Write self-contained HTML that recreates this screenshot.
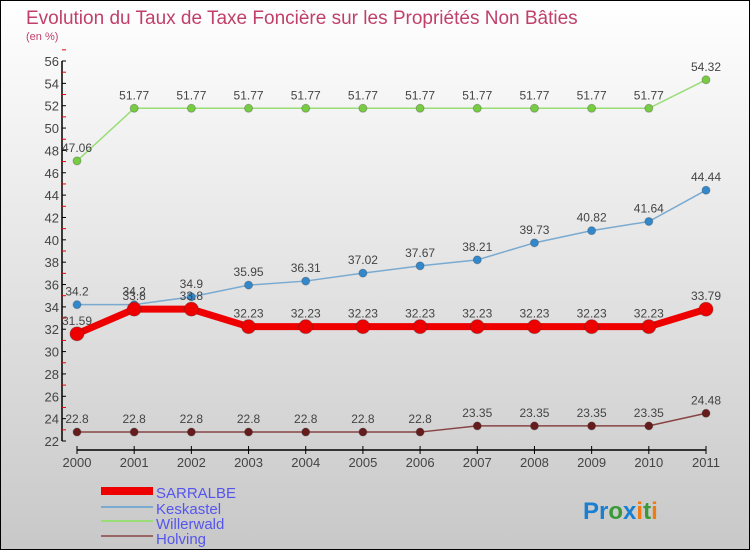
<!DOCTYPE html>
<html><head><meta charset="utf-8"><style>
body{margin:0;}
#c{position:relative;width:748px;height:548px;border:1px solid #000;background:linear-gradient(#fff,#c8c8c8);font-family:"Liberation Sans",sans-serif;overflow:hidden}
</style></head><body>
<div id="c">
<svg id="s" width="748" height="548" style="position:absolute;left:0;top:0">
<text x="25" y="23" font-size="19" fill="#c0406a">Evolution du Taux de Taxe Foncière sur les Propriétés Non Bâties</text>
<text x="25" y="39" font-size="11" fill="#c0406a">(en %)</text>
<g id="ax"></g><g id="ser"></g>
<g>
<rect x="100" y="486" width="52" height="8" fill="#e00"/>
<text x="155" y="497" font-size="15" fill="#5555ee">SARRALBE</text>
<line x1="100" x2="152" y1="506" y2="506" stroke="#7aaad0" stroke-width="2"/>
<text x="155" y="513" font-size="15" fill="#5555ee">Keskastel</text>
<line x1="100" x2="152" y1="520" y2="520" stroke="#99dd77" stroke-width="2"/>
<text x="155" y="528" font-size="15" fill="#5555ee">Willerwald</text>
<line x1="100" x2="152" y1="535" y2="535" stroke="#996666" stroke-width="2"/>
<text x="155" y="543" font-size="15" fill="#5555ee">Holving</text>
</g>
<text x="582" y="518" font-size="24" font-weight="bold"><tspan fill="#1a7fd0">Pr</tspan><tspan fill="#3a9a3a">o</tspan><tspan fill="#1a7fd0">x</tspan><tspan fill="#f07b10">i</tspan><tspan fill="#3a9a3a">t</tspan><tspan fill="#f07b10">i</tspan></text>
</svg>
</div>
<script>
const years=[2000,2001,2002,2003,2004,2005,2006,2007,2008,2009,2010,2011];
const sarralbe=[31.59,33.8,33.8,32.23,32.23,32.23,32.23,32.23,32.23,32.23,32.23,33.79];
const keskastel=[34.2,34.2,34.9,35.95,36.31,37.02,37.67,38.21,39.73,40.82,41.64,44.44];
const willerwald=[47.06,51.77,51.77,51.77,51.77,51.77,51.77,51.77,51.77,51.77,51.77,54.32];
const holving=[22.8,22.8,22.8,22.8,22.8,22.8,22.8,23.35,23.35,23.35,23.35,24.48];
const yTicks=[22,24,26,28,30,32,34,36,38,40,42,44,46,48,50,52,54,56];
const NS='http://www.w3.org/2000/svg';
const X=i=>76+i*(705-76)/(years.length-1);
const Y=v=>440-(v-22)*(380/34);
function mk(p,t,a){const e=document.createElementNS(NS,t);for(const k in a)e.setAttribute(k,a[k]);p.appendChild(e);return e;}
const ax=document.getElementById('ax');
let e=mk(ax,'line',{x1:61,x2:61,y1:Y(56),y2:Y(22),stroke:'#000','stroke-width':1.5});


yTicks.forEach(v=>{
 let t=mk(ax,'line',{x1:61,x2:65,y1:Y(v),y2:Y(v),stroke:'#000'});
 
 
 let m=mk(ax,'line',{x1:61,x2:65,y1:Y(v+1),y2:Y(v+1),stroke:'#e00'});
 
 
 let l=mk(ax,'text',{x:58,y:Y(v)+5,'text-anchor':'end','font-size':13,fill:'#444'});
 l.textContent=v;
 
 
});
e=mk(ax,'line',{x1:76,x2:705,y1:449,y2:449,stroke:'#000','stroke-width':1.5});


years.forEach((y,i)=>{
 let t=mk(ax,'line',{x1:X(i),x2:X(i),y1:445,y2:453,stroke:'#000'});
 
 
 let l=mk(ax,'text',{x:X(i),y:466,'text-anchor':'middle','font-size':13,fill:'#444'});
 l.textContent=y;
 
 
});
const ser=document.getElementById('ser');
function draw(vals,name,col,dot,w,r){
 const g=mk(ser,'g',{});
 
 
 let p=mk(g,'polyline',{points:vals.map((v,i)=>X(i)+','+Y(v)).join(' '),fill:'none',stroke:col,'stroke-width':w});
 
 
 vals.forEach((v,i)=>{
  let c=mk(g,'circle',{cx:X(i),cy:Y(v),r:r,fill:dot,stroke:'#333','stroke-opacity':0.3});
  
  
  let t=mk(g,'text',{x:X(i),y:Y(v)-9,'text-anchor':'middle','font-size':12,fill:'#444'});
  t.textContent=String(v).replace('.',' .').replace(' .','.');
  
  
 });
}
draw(holving,'holving','#884444','#661c1c',1.5,4);
draw(willerwald,'willerwald','#99dd77','#77cc44',1.5,4);
draw(keskastel,'keskastel','#7aaad0','#3388cc',1.5,4);
draw(sarralbe,'sarralbe','#ee0000','#ee0000',7,7);
</script>
</body></html>
